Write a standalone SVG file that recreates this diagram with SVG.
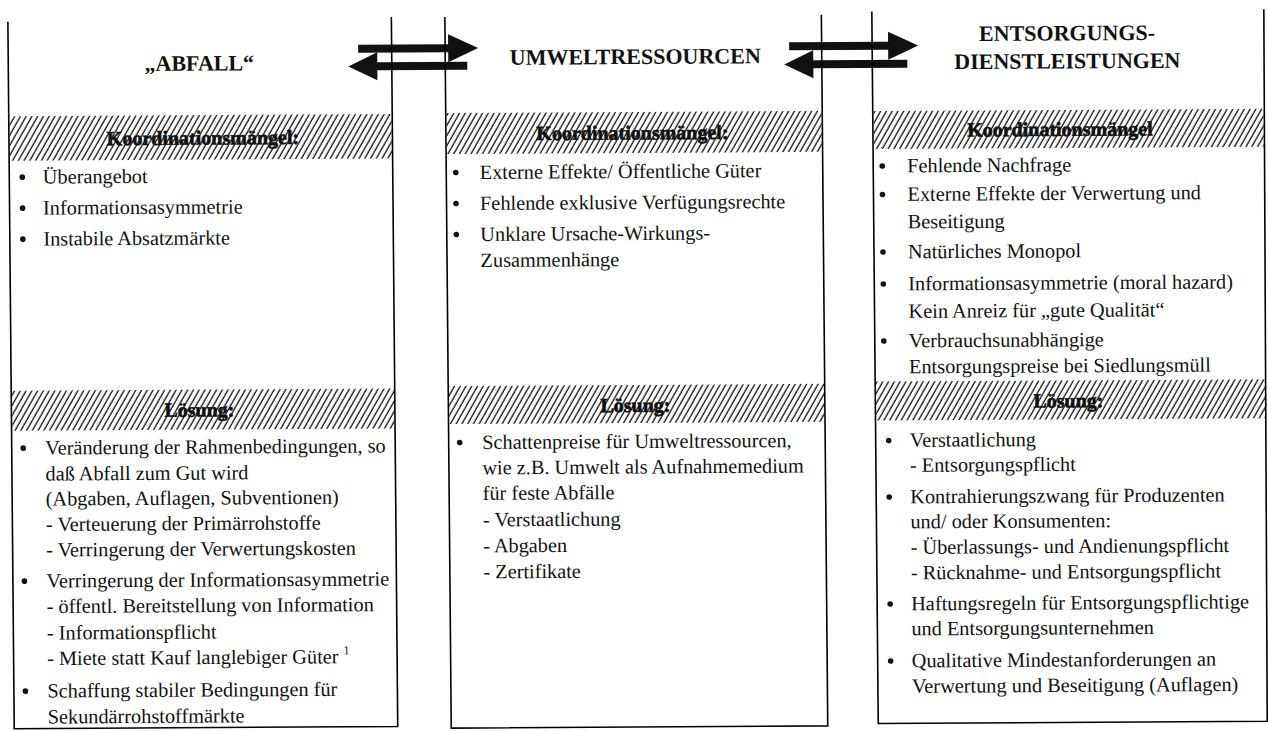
<svg xmlns="http://www.w3.org/2000/svg" width="1268" height="731" viewBox="0 0 1268 731">
<style>
.b{fill:none;stroke:#000;stroke-width:1.6}
.t{font-family:"Liberation Serif","Times New Roman",serif;font-size:20.3px;fill:#111}
.h{font-family:"Liberation Serif","Times New Roman",serif;font-size:22px;font-weight:bold;fill:#111;text-anchor:middle}
.l{font-family:"Liberation Serif","Times New Roman",serif;font-size:20px;font-weight:bold;fill:#111;stroke:#111;stroke-width:0.6;text-anchor:middle}
.d{fill:#111}
.a{fill:#111}
.hat{fill:url(#hatch)}
</style>
<defs>
<pattern id="hatch" patternUnits="userSpaceOnUse" width="5" height="10" patternTransform="rotate(30)">
<line x1="1" y1="0" x2="1" y2="10" stroke="#000" stroke-width="1.2"/>
</pattern>
</defs>
<rect width="1268" height="731" fill="#fff"/>
<g transform="matrix(1,-0.006,0.009,1,-3.285,3.804)">
<g id="connectors">
<path class="a" d="M361,43.2 H451 V33.2 L481,47.2 L451,61.2 V51.2 H361 Z"/>
<path class="a" d="M470,60.7 H380 V50.7 L351,64.7 L380,78.7 V68.7 H470 Z"/>
<path class="a" d="M792,43.3 H891 V33.3 L921,47.3 L891,61.3 V51.3 H792 Z"/>
<path class="a" d="M910,61.3 H816 V51.3 L787,65.3 L816,79.3 V69.3 H910 Z"/>
</g>
<g id="col-abfall">
<rect class="hat" x="11.8" y="112.5" width="382" height="44.5"/>
<rect class="hat" x="11.8" y="387" width="382" height="40"/>
<path class="b" d="M11,18 V725 H394.5 V15.5"/>
<text class="h" x="202" y="68">„ABFALL“</text>
<text class="l" x="205" y="142">Koordinationsmängel:</text>
<circle class="d" cx="24" cy="173.5" r="2.8"/><text class="t" x="44.5" y="180">Überangebot</text>
<circle class="d" cx="24" cy="204.5" r="2.8"/><text class="t" x="44.5" y="211">Informationsasymmetrie</text>
<circle class="d" cx="24" cy="235.5" r="2.8"/><text class="t" x="44.5" y="242">Instabile Absatzmärkte</text>
<text class="l" x="199" y="414">Lösung:</text>
<circle class="d" cx="22.5" cy="444.5" r="2.8"/>
<text class="t" x="44.5" y="451">Veränderung der Rahmenbedingungen, so</text>
<text class="t" x="44.5" y="477">daß Abfall zum Gut wird</text>
<text class="t" x="44.5" y="502">(Abgaben, Auflagen, Subventionen)</text>
<text class="t" x="44.5" y="527.5">- Verteuerung der Primärrohstoffe</text>
<text class="t" x="44.5" y="553">- Verringerung der Verwertungskosten</text>
<circle class="d" cx="22.5" cy="577.5" r="2.8"/>
<text class="t" x="44.5" y="584">Verringerung der Informationsasymmetrie</text>
<text class="t" x="44.5" y="609.5">- öffentl. Bereitstellung von Information</text>
<text class="t" x="44.5" y="636">- Informationspflicht</text>
<text class="t" x="44.5" y="661.5">- Miete statt Kauf langlebiger Güter <tspan font-size="12" dy="-9">1</tspan></text>
<circle class="d" cx="22.5" cy="687.5" r="2.8"/>
<text class="t" x="44.5" y="694">Schaffung stabiler Bedingungen für</text>
<text class="t" x="44.5" y="720">Sekundärrohstoffmärkte</text>
</g>
<g id="col-umwelt">
<rect class="hat" x="448.8" y="112" width="375" height="41"/>
<rect class="hat" x="448.8" y="385" width="375" height="38"/>
<path class="b" d="M448,16 V727 H824.5 V16"/>
<text class="h" x="638" y="64">UMWELTRESSOURCEN</text>
<text class="l" x="634.5" y="139.5">Koordinationsmängel:</text>
<circle class="d" cx="457.5" cy="171.5" r="2.8"/><text class="t" x="481.5" y="178">Externe Effekte/ Öffentliche Güter</text>
<circle class="d" cx="457.5" cy="202.5" r="2.8"/><text class="t" x="481.5" y="209">Fehlende exklusive Verfügungsrechte</text>
<circle class="d" cx="457.5" cy="233.5" r="2.8"/><text class="t" x="481.5" y="240">Unklare Ursache-Wirkungs-</text>
<text class="t" x="481.5" y="266">Zusammenhänge</text>
<text class="l" x="635" y="412">Lösung:</text>
<circle class="d" cx="459" cy="441.5" r="2.8"/>
<text class="t" x="481.5" y="448">Schattenpreise für Umweltressourcen,</text>
<text class="t" x="481.5" y="473.5">wie z.B. Umwelt als Aufnahmemedium</text>
<text class="t" x="481.5" y="499">für feste Abfälle</text>
<text class="t" x="481.5" y="525.5">- Verstaatlichung</text>
<text class="t" x="481.5" y="551.5">- Abgaben</text>
<text class="t" x="481.5" y="577.5">- Zertifikate</text>
</g>
<g id="col-entsorgung">
<rect class="hat" x="875.8" y="112.5" width="390" height="38"/>
<rect class="hat" x="875.8" y="383" width="390" height="39"/>
<path class="b" d="M875,13 V725 H1264 L1267,13"/>
<text class="h" x="1070" y="43">ENTSORGUNGS-</text>
<text class="h" x="1070" y="71">DIENSTLEISTUNGEN</text>
<text class="l" x="1062" y="138.5">Koordinationsmängel</text>
<circle class="d" cx="884" cy="167.5" r="2.8"/><text class="t" x="909" y="174">Fehlende Nachfrage</text>
<circle class="d" cx="884" cy="196" r="2.8"/><text class="t" x="909" y="202.5">Externe Effekte der Verwertung und</text>
<text class="t" x="909" y="230">Beseitigung</text>
<circle class="d" cx="884" cy="253.5" r="2.8"/><text class="t" x="909" y="260">Natürliches Monopol</text>
<circle class="d" cx="884" cy="285.5" r="2.8"/><text class="t" x="909" y="292">Informationsasymmetrie (moral hazard)</text>
<text class="t" x="909" y="319.5">Kein Anreiz für „gute Qualität“</text>
<circle class="d" cx="884" cy="342.5" r="2.8"/><text class="t" x="909" y="349">Verbrauchsunabhängige</text>
<text class="t" x="909" y="375">Entsorgungspreise bei Siedlungsmüll</text>
<text class="l" x="1068" y="410">Lösung:</text>
<circle class="d" cx="888" cy="442" r="2.8"/>
<text class="t" x="909" y="448.5">Verstaatlichung</text>
<text class="t" x="909" y="473.5">- Entsorgungspflicht</text>
<circle class="d" cx="888" cy="498.5" r="2.8"/>
<text class="t" x="909" y="505">Kontrahierungszwang für Produzenten</text>
<text class="t" x="909" y="530">und/ oder Konsumenten:</text>
<text class="t" x="909" y="555.5">- Überlassungs- und Andienungspflicht</text>
<text class="t" x="909" y="581">- Rücknahme- und Entsorgungspflicht</text>
<circle class="d" cx="888" cy="605.5" r="2.8"/>
<text class="t" x="909" y="612">Haftungsregeln für Entsorgungspflichtige</text>
<text class="t" x="909" y="637">und Entsorgungsunternehmen</text>
<circle class="d" cx="888" cy="662.5" r="2.8"/>
<text class="t" x="909" y="669">Qualitative Mindestanforderungen an</text>
<text class="t" x="909" y="694.5">Verwertung und Beseitigung (Auflagen)</text>
</g>
</g>
</svg>
